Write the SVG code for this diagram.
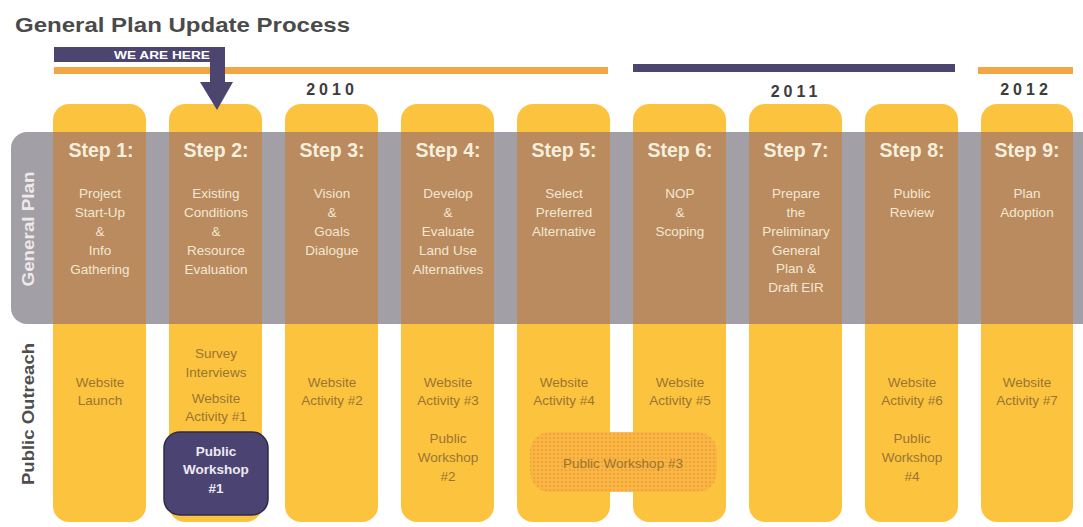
<svg xmlns="http://www.w3.org/2000/svg" width="1083" height="527" viewBox="0 0 1083 527">
<style>
.col{fill:#fcc43e}
.brn{fill:#b98b5e}
.step{font-family:"Liberation Sans",Arial,sans-serif;font-weight:bold;font-size:19.5px;fill:#f7efdd;text-anchor:middle}
.desc{font-family:"Liberation Sans",Arial,sans-serif;font-size:13.5px;fill:#f3e7d2;text-anchor:middle}
.out{font-family:"Liberation Sans",Arial,sans-serif;font-size:13.5px;fill:#9a7434;text-anchor:middle}
.yr{font-family:"Liberation Sans",Arial,sans-serif;font-weight:bold;font-size:16px;fill:#3c3c3c;letter-spacing:4px;text-anchor:middle}
.side{font-family:"Liberation Sans",Arial,sans-serif;font-weight:bold;font-size:17px;text-anchor:middle}
</style>
<defs>
<pattern id="dots" width="4" height="4" patternUnits="userSpaceOnUse">
<rect width="4" height="4" fill="#f9b444"/>
<circle cx="2" cy="2" r="1.1" fill="#ef9d35"/>
</pattern>
</defs>
<rect width="1083" height="527" fill="#ffffff"/>
<text x="15" y="32" font-family="Liberation Sans,Arial,sans-serif" font-weight="bold" font-size="21" fill="#4a4a4a" textLength="335" lengthAdjust="spacingAndGlyphs">General Plan Update Process</text>

<g id="timeline">
<rect x="54" y="67" width="554" height="7" fill="#f2a645"/>
<rect x="633" y="64" width="322" height="8" fill="#4b4570"/>
<rect x="978" y="67" width="95" height="7" fill="#f2a645"/>
<text class="yr" x="332" y="95">2010</text>
<text class="yr" x="796" y="97">2011</text>
<text class="yr" x="1026" y="95">2012</text>
</g>

<g id="columns">
<rect class="col" x="53" y="104" width="93" height="418" rx="16"/>
<rect class="col" x="169" y="104" width="93" height="418" rx="16"/>
<rect class="col" x="285" y="104" width="93" height="418" rx="16"/>
<rect class="col" x="401" y="104" width="93" height="418" rx="16"/>
<rect class="col" x="517" y="104" width="93" height="418" rx="16"/>
<rect class="col" x="633" y="104" width="93" height="418" rx="16"/>
<rect class="col" x="749" y="104" width="93" height="418" rx="16"/>
<rect class="col" x="865" y="104" width="93" height="418" rx="16"/>
<rect class="col" x="981" y="104" width="92" height="418" rx="16"/>
</g>

<g id="band">
<path d="M27,132 H1083 V324 H27 A16,16 0 0 1 11,308 V148 A16,16 0 0 1 27,132 Z" fill="#a29fa7"/>
<rect class="brn" x="53" y="132" width="93" height="192"/>
<rect class="brn" x="169" y="132" width="93" height="192"/>
<rect class="brn" x="285" y="132" width="93" height="192"/>
<rect class="brn" x="401" y="132" width="93" height="192"/>
<rect class="brn" x="517" y="132" width="93" height="192"/>
<rect class="brn" x="633" y="132" width="93" height="192"/>
<rect class="brn" x="749" y="132" width="93" height="192"/>
<rect class="brn" x="865" y="132" width="93" height="192"/>
<rect class="brn" x="981" y="132" width="92" height="192"/>
<text class="side" fill="#efe9e6" transform="translate(34,229) rotate(-90)" textLength="115" lengthAdjust="spacingAndGlyphs">General Plan</text>
<text class="side" fill="#4e4e4e" transform="translate(34,414) rotate(-90)" textLength="142" lengthAdjust="spacingAndGlyphs">Public Outreach</text>
</g>

<g id="step1">
<text class="step" x="101" y="157">Step 1:</text>
<text class="desc" x="100" y="198">Project</text>
<text class="desc" x="100" y="217">Start-Up</text>
<text class="desc" x="100" y="236">&amp;</text>
<text class="desc" x="100" y="255">Info</text>
<text class="desc" x="100" y="274">Gathering</text>
<text class="out" x="100" y="387">Website</text>
<text class="out" x="100" y="405">Launch</text>
</g>
<g id="step2">
<text class="step" x="216" y="157">Step 2:</text>
<text class="desc" x="216" y="198">Existing</text>
<text class="desc" x="216" y="217">Conditions</text>
<text class="desc" x="216" y="236">&amp;</text>
<text class="desc" x="216" y="255">Resource</text>
<text class="desc" x="216" y="274">Evaluation</text>
<text class="out" x="216" y="358">Survey</text>
<text class="out" x="216" y="377">Interviews</text>
<text class="out" x="216" y="403">Website</text>
<text class="out" x="216" y="421">Activity #1</text>
</g>
<g id="step3">
<text class="step" x="332" y="157">Step 3:</text>
<text class="desc" x="332" y="198">Vision</text>
<text class="desc" x="332" y="217">&amp;</text>
<text class="desc" x="332" y="236">Goals</text>
<text class="desc" x="332" y="255">Dialogue</text>
<text class="out" x="332" y="387">Website</text>
<text class="out" x="332" y="405">Activity #2</text>
</g>
<g id="step4">
<text class="step" x="448" y="157">Step 4:</text>
<text class="desc" x="448" y="198">Develop</text>
<text class="desc" x="448" y="217">&amp;</text>
<text class="desc" x="448" y="236">Evaluate</text>
<text class="desc" x="448" y="255">Land Use</text>
<text class="desc" x="448" y="274">Alternatives</text>
<text class="out" x="448" y="387">Website</text>
<text class="out" x="448" y="405">Activity #3</text>
<text class="out" x="448" y="443">Public</text>
<text class="out" x="448" y="462">Workshop</text>
<text class="out" x="448" y="481">#2</text>
</g>
<g id="step5">
<text class="step" x="564" y="157">Step 5:</text>
<text class="desc" x="564" y="198">Select</text>
<text class="desc" x="564" y="217">Preferred</text>
<text class="desc" x="564" y="236">Alternative</text>
<text class="out" x="564" y="387">Website</text>
<text class="out" x="564" y="405">Activity #4</text>
</g>
<g id="step6">
<text class="step" x="680" y="157">Step 6:</text>
<text class="desc" x="680" y="198">NOP</text>
<text class="desc" x="680" y="217">&amp;</text>
<text class="desc" x="680" y="236">Scoping</text>
<text class="out" x="680" y="387">Website</text>
<text class="out" x="680" y="405">Activity #5</text>
</g>
<g id="step7">
<text class="step" x="796" y="157">Step 7:</text>
<text class="desc" x="796" y="198">Prepare</text>
<text class="desc" x="796" y="217">the</text>
<text class="desc" x="796" y="236">Preliminary</text>
<text class="desc" x="796" y="255">General</text>
<text class="desc" x="796" y="273">Plan &amp;</text>
<text class="desc" x="796" y="292">Draft EIR</text>
</g>
<g id="step8">
<text class="step" x="912" y="157">Step 8:</text>
<text class="desc" x="912" y="198">Public</text>
<text class="desc" x="912" y="217">Review</text>
<text class="out" x="912" y="387">Website</text>
<text class="out" x="912" y="405">Activity #6</text>
<text class="out" x="912" y="443">Public</text>
<text class="out" x="912" y="462">Workshop</text>
<text class="out" x="912" y="481">#4</text>
</g>
<g id="step9">
<text class="step" x="1027" y="157">Step 9:</text>
<text class="desc" x="1027" y="198">Plan</text>
<text class="desc" x="1027" y="217">Adoption</text>
<text class="out" x="1027" y="387">Website</text>
<text class="out" x="1027" y="405">Activity #7</text>
</g>

<g id="workshop1">
<rect x="164" y="432" width="104" height="83" rx="16" fill="#4b4472" stroke="#2e2a48" stroke-width="1.5"/>
<text x="216" y="456" font-family="Liberation Sans,Arial,sans-serif" font-weight="bold" font-size="13.5" fill="#eeeaf2" text-anchor="middle">Public</text>
<text x="216" y="474" font-family="Liberation Sans,Arial,sans-serif" font-weight="bold" font-size="13.5" fill="#eeeaf2" text-anchor="middle">Workshop</text>
<text x="216" y="493" font-family="Liberation Sans,Arial,sans-serif" font-weight="bold" font-size="13.5" fill="#eeeaf2" text-anchor="middle">#1</text>
</g>

<g id="workshop3">
<rect x="609" y="434" width="25" height="56" fill="#fcc43e"/>
<rect x="530" y="432" width="187" height="60" rx="20" fill="url(#dots)" opacity="0.9"/>
<text class="out" x="623" y="468">Public Workshop #3</text>
</g>

<g id="we-are-here">
<rect x="54" y="47" width="170" height="15" fill="#4b4570"/>
<text x="162" y="59" font-family="Liberation Sans,Arial,sans-serif" font-weight="bold" font-size="11" fill="#ffffff" text-anchor="middle" textLength="96" lengthAdjust="spacingAndGlyphs">WE ARE HERE</text>
</g>

<g id="connectors">
<path d="M210,47 H225 V82 H233 L217,110 L200,82 H210 Z" fill="#4b4570"/>
</g>
</svg>
